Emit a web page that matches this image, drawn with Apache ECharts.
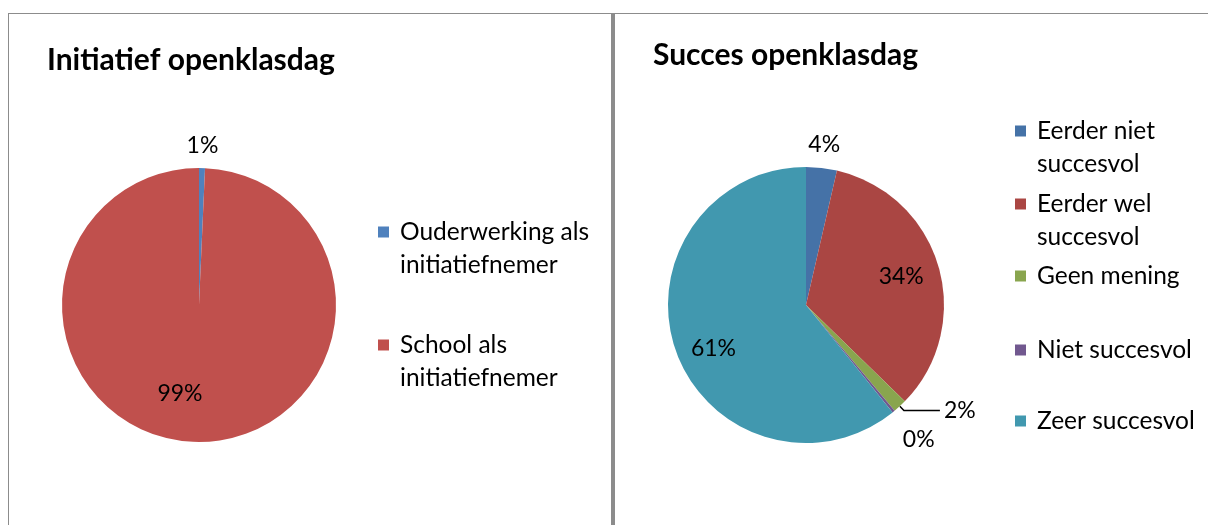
<!DOCTYPE html>
<html>
<head>
<meta charset="utf-8">
<script src="https://cdn.jsdelivr.net/npm/echarts@6/dist/echarts.min.js"></script>
<style>
  html, body { margin: 0; padding: 0; background: #fff; }
  #wrap { position: relative; width: 1208px; height: 525px; overflow: hidden; }
  .ln { position: absolute; background: #8c8c8c; }
  #chart { position: absolute; left: 0; top: 0; width: 1208px; height: 525px; }
</style>
</head>
<body>
<div id="wrap">
  <div class="ln" style="left:8px; top:13px; width:1200px; height:1px;"></div>
  <div class="ln" style="left:8px; top:13px; width:1px; height:512px;"></div>
  <div class="ln" style="left:611px; top:13px; width:4px; height:512px;"></div>
  <div id="chart"></div>
</div>
<script>
// ---- data ----
const leftTitle = 'Initiatief openklasdag';
const leftCategories = ['Ouderwerking als initiatiefnemer', 'School als initiatiefnemer'];
const leftLegendText = ['Ouderwerking als\ninitiatiefnemer', 'School als\ninitiatiefnemer'];
const leftValues = [0.7, 99.3];

const rightTitle = 'Succes openklasdag';
const rightCategories = ['Eerder niet succesvol', 'Eerder wel succesvol', 'Geen mening', 'Niet succesvol', 'Zeer succesvol'];
const rightLegendText = ['Eerder niet\nsuccesvol', 'Eerder wel\nsuccesvol', 'Geen mening', 'Niet succesvol', 'Zeer succesvol'];
const rightValues = [3.6, 33.7, 1.6, 0.3, 60.8];

// ---- styles ----
const leftColors = ['#4F81BD', '#C0504D'];
const rightColors = ['#4572A7', '#AA4643', '#89A54E', '#71588F', '#4198AF'];
const FONT = 'Lato, "Liberation Sans", Arial, sans-serif';
const LH = 33;
const LABEL_SIZE = 23;
const pctFmt = p => Math.round(p.percent) + '%';

function legendFor(name, text, color, x, iconY) {
  const lines = text.split('\n');
  // pad with empty leading lines so that the first text line sits beside the icon
  const shown = lines.length > 1 ? Array(lines.length - 1).fill(' ').concat(lines).join('\n') : text;
  const total = lines.length > 1 ? 2 * lines.length - 1 : 1;
  const boxH = total * LH;
  return {
    orient: 'vertical', left: x, top: iconY - boxH / 2, padding: 0,
    itemWidth: 11, itemHeight: 11, icon: 'rect',
    data: [{ name: name, itemStyle: { color: color } }],
    formatter: () => shown,
    selectedMode: false,
    textStyle: { fontFamily: FONT, fontSize: 24.5, color: '#000', lineHeight: LH, padding: [0, 0, 0, 6] }
  };
}

function baseData(names, values, colors, labelCfg) {
  return names.map((n, i) => ({
    name: n, value: values[i], itemStyle: { color: colors[i] },
    label: labelCfg[i] ? labelCfg[i] : { show: false },
    labelLine: { show: !!(labelCfg[i] && labelCfg[i].line) }
  }));
}

function overlay(center, radius, names, values, shown, offsets) {
  return {
    type: 'pie', center: center, radius: radius, silent: true,
    startAngle: 90, clockwise: true, avoidLabelOverlap: false,
    itemStyle: { color: 'transparent', borderWidth: 0 },
    labelLine: { show: false },
    data: names.map((n, i) => ({
      name: n, value: values[i],
      itemStyle: { color: 'transparent' },
      label: {
        show: shown[i], position: 'inside', formatter: pctFmt,
        color: '#000', fontFamily: FONT, fontSize: LABEL_SIZE,
        offset: offsets && offsets[i] ? offsets[i] : [0, 0]
      }
    }))
  };
}

const LC = [199, 305], LR = 137;
const RC = [806, 305], RR = 138;

const rightMainLabels = [null, null,
  { show: true, position: 'outside', formatter: pctFmt, color: '#000', fontFamily: FONT, fontSize: LABEL_SIZE, line: true },
  null, null];

const option = {
  animation: false,
  title: [
    { text: leftTitle, left: 42, top: 40, textStyle: { fontFamily: FONT, fontWeight: 'bold', fontSize: 30, color: '#000' } },
    { text: rightTitle, left: 648, top: 35, textStyle: { fontFamily: FONT, fontWeight: 'bold', fontSize: 30, color: '#000' } }
  ],
  legend: [
    legendFor(leftCategories[0], leftLegendText[0], leftColors[0], 378, 232),
    legendFor(leftCategories[1], leftLegendText[1], leftColors[1], 378, 345),
    legendFor(rightCategories[0], rightLegendText[0], rightColors[0], 1015, 131),
    legendFor(rightCategories[1], rightLegendText[1], rightColors[1], 1015, 204),
    legendFor(rightCategories[2], rightLegendText[2], rightColors[2], 1015, 276),
    legendFor(rightCategories[3], rightLegendText[3], rightColors[3], 1015, 350),
    legendFor(rightCategories[4], rightLegendText[4], rightColors[4], 1015, 421)
  ],
  series: [
    {
      type: 'pie', center: LC, radius: [0, LR], startAngle: 90, clockwise: true,
      avoidLabelOverlap: false, silent: true,
      itemStyle: { borderWidth: 0 },
      data: baseData(leftCategories, leftValues, leftColors, [null, null])
    },
    {
      type: 'pie', center: RC, radius: [0, RR], startAngle: 90, clockwise: true,
      avoidLabelOverlap: false, silent: true,
      itemStyle: { borderWidth: 0 },
      labelLine: { length: 6, length2: 36, lineStyle: { color: '#000', width: 1.5 } },
      label: { distanceToLabelLine: 4 },
      data: baseData(rightCategories, rightValues, rightColors, rightMainLabels)
    },
    overlay(LC, [LR * 0.32, LR], leftCategories, leftValues, [false, true], [null, [-17, -5]]),
    overlay(LC, [LR, LR * 1.28], leftCategories, leftValues, [true, false]),
    overlay(RC, [RR * 0.44, RR], rightCategories, rightValues, [false, true, false, false, true], [null, [-3, 0], null, null, [4, 10]]),
    overlay(RC, [RR, RR * 1.3], rightCategories, rightValues, [true, false, false, true, false], [null, null, null, [10, 10], null])
  ]
};

const chart = echarts.init(document.getElementById('chart'), null, { renderer: 'canvas' });
chart.setOption(option);
</script>
</body>
</html>
